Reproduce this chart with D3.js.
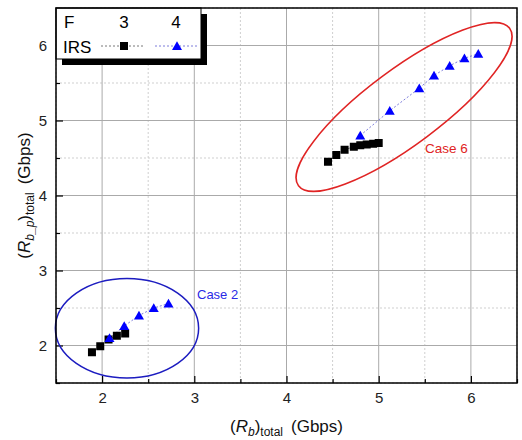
<!DOCTYPE html>
<html>
<head>
<meta charset="utf-8">
<script src="https://cdn.jsdelivr.net/npm/d3@7"></script>
<style>
  body { margin: 0; background: #fff; }
  svg { font-family: "Liberation Sans", Arial, sans-serif; }
</style>
</head>
<body>
<svg id="chart" width="522" height="440"></svg>
<script>
// data
const majorTicks = [2, 3, 4, 5, 6];
const minorTicks = [1.5, 2.5, 3.5, 4.5, 5.5, 6.5];

// F = 3 (squares)
const sqCase2X = [1.89, 1.98, 2.07, 2.16, 2.25];
const sqCase2Y = [1.91, 1.99, 2.08, 2.13, 2.16];
const sqCase6X = [4.45, 4.54, 4.63, 4.73, 4.80, 4.87, 4.94, 5.00];
const sqCase6Y = [4.45, 4.54, 4.61, 4.65, 4.67, 4.68, 4.69, 4.70];

// F = 4 (triangles)
const trCase2X = [2.08, 2.24, 2.40, 2.56, 2.72];
const trCase2Y = [2.10, 2.26, 2.40, 2.50, 2.56];
const trCase6X = [4.80, 5.12, 5.44, 5.60, 5.77, 5.93, 6.08];
const trCase6Y = [4.80, 5.13, 5.43, 5.60, 5.73, 5.83, 5.89];

// annotation ellipses: centre (data), half widths (data units)
const case2Ellipse = {cx: 2.27, cy: 2.23, rx: 0.777, ry: 0.663};
// case 6: ends of the long axis (data) and half width of short axis (data, along y scale)
const case6Ellipse = {x1: 4.13, y1: 4.13, x2: 6.42, y2: 6.23, half: 0.50};

const zip = (xs, ys) => xs.map((v, i) => [v, ys[i]]);

const svg = d3.select("#chart");
const margin = {left: 56, top: 8, right: 5, bottom: 57};
const W = 522 - margin.left - margin.right;
const H = 440 - margin.top - margin.bottom;

const x = d3.scaleLinear().domain([1.5, 6.5]).range([0, W]);
const y = d3.scaleLinear().domain([1.5, 6.5]).range([H, 0]);

const g = svg.append("g").attr("transform", `translate(${margin.left},${margin.top})`);

// grid
const gridG = g.append("g");
gridG.selectAll("line.minx").data(minorTicks).enter().append("line")
    .attr("x1", d => x(d)).attr("x2", d => x(d)).attr("y1", 0).attr("y2", H)
    .attr("stroke", "#cfcfcf").attr("stroke-dasharray", "2,2");
gridG.selectAll("line.miny").data(minorTicks).enter().append("line")
    .attr("y1", d => y(d)).attr("y2", d => y(d)).attr("x1", 0).attr("x2", W)
    .attr("stroke", "#cfcfcf").attr("stroke-dasharray", "2,2");
gridG.selectAll("line.majx").data(majorTicks).enter().append("line")
    .attr("x1", d => x(d)).attr("x2", d => x(d)).attr("y1", 0).attr("y2", H)
    .attr("stroke", "#aaaaaa");
gridG.selectAll("line.majy").data(majorTicks).enter().append("line")
    .attr("y1", d => y(d)).attr("y2", d => y(d)).attr("x1", 0).attr("x2", W)
    .attr("stroke", "#aaaaaa");

// axes
const xAxis = d3.axisBottom(x).tickValues(majorTicks).tickFormat(d3.format("d"))
    .tickSizeInner(-7).tickSizeOuter(0).tickPadding(9);
const yAxis = d3.axisLeft(y).tickValues(majorTicks).tickFormat(d3.format("d"))
    .tickSizeInner(-7).tickSizeOuter(0).tickPadding(9);
const xMinor = d3.axisBottom(x).tickValues(minorTicks).tickFormat("").tickSizeInner(-4).tickSizeOuter(0);
const yMinor = d3.axisLeft(y).tickValues(minorTicks).tickFormat("").tickSizeInner(-4).tickSizeOuter(0);

[[xAxis, true], [xMinor, true], [yAxis, false], [yMinor, false]].forEach(([ax, bottom]) => {
    const a = g.append("g").attr("transform", bottom ? `translate(0,${H})` : null).call(ax);
    a.select(".domain").remove();
    a.selectAll("line").attr("stroke", "#000").attr("stroke-width", 1.2);
    a.selectAll("text").attr("font-size", 15).attr("fill", "#222")
        .attr("font-family", "'Liberation Sans', Arial, sans-serif");
});

// ellipses
g.append("ellipse")
    .attr("cx", x(case2Ellipse.cx)).attr("cy", y(case2Ellipse.cy))
    .attr("rx", x(case2Ellipse.cx + case2Ellipse.rx) - x(case2Ellipse.cx))
    .attr("ry", y(case2Ellipse.cy - case2Ellipse.ry) - y(case2Ellipse.cy))
    .attr("fill", "none").attr("stroke", "#1c1cc0").attr("stroke-width", 1.5);

let ex1 = x(case6Ellipse.x1), ey1 = y(case6Ellipse.y1);
let ex2 = x(case6Ellipse.x2), ey2 = y(case6Ellipse.y2);
let ecx = (ex1 + ex2) / 2, ecy = (ey1 + ey2) / 2;
let eA = Math.hypot(ex2 - ex1, ey2 - ey1) / 2;
let eAng = Math.atan2(ey2 - ey1, ex2 - ex1) * 180 / Math.PI;
g.append("ellipse")
    .attr("cx", 0).attr("cy", 0).attr("rx", eA)
    .attr("ry", y(0) - y(case6Ellipse.half))
    .attr("transform", `translate(${ecx},${ecy}) rotate(${eAng})`)
    .attr("fill", "none").attr("stroke", "#e02424").attr("stroke-width", 1.5);

// case labels
g.append("text").attr("x", 141).attr("y", y(2.68)).attr("dy", "0.35em")
    .attr("font-size", 13).attr("fill", "#2a2ae6").text("Case 2");
g.append("text").attr("x", 369).attr("y", y(4.63)).attr("dy", "0.35em")
    .attr("font-size", 13.5).attr("fill", "#e02424").text("Case 6");

// connecting lines
const line = d3.line().x(d => x(d[0])).y(d => y(d[1]));
[zip(sqCase2X, sqCase2Y), zip(sqCase6X, sqCase6Y)].forEach(pts => {
    g.append("path").attr("d", line(pts)).attr("fill", "none")
        .attr("stroke", "#555").attr("stroke-width", 0.8).attr("stroke-dasharray", "2,2");
});
[zip(trCase2X, trCase2Y), zip(trCase6X, trCase6Y)].forEach(pts => {
    g.append("path").attr("d", line(pts)).attr("fill", "none")
        .attr("stroke", "#5a5ad0").attr("stroke-width", 0.8).attr("stroke-dasharray", "2,2");
});

// markers
const squares = zip(sqCase2X, sqCase2Y).concat(zip(sqCase6X, sqCase6Y));
const triangles = zip(trCase2X, trCase2Y).concat(zip(trCase6X, trCase6Y));
const triPath = "M0,-4.8 L5,4 L-5,4 Z";

g.selectAll("rect.sq").data(squares).enter().append("rect")
    .attr("x", d => x(d[0]) - 4).attr("y", d => y(d[1]) - 4)
    .attr("width", 8).attr("height", 8).attr("fill", "#000");
g.selectAll("path.tri").data(triangles).enter().append("path")
    .attr("d", triPath)
    .attr("transform", d => `translate(${x(d[0])},${y(d[1])})`)
    .attr("fill", "#0000ff");

// legend
const leg = g.append("g");
leg.append("rect").attr("x", 6).attr("y", 6).attr("width", 145).attr("height", 51).attr("fill", "#000");
leg.append("rect").attr("x", 0).attr("y", 0).attr("width", 145).attr("height", 51)
    .attr("fill", "#fff").attr("stroke", "#000").attr("stroke-width", 1);
leg.append("text").attr("x", 8).attr("y", 14).attr("dy", "0.35em").attr("font-size", 17).text("F");
leg.append("text").attr("x", 68).attr("y", 14).attr("dy", "0.35em").attr("font-size", 17)
    .attr("text-anchor", "middle").text("3");
leg.append("text").attr("x", 120).attr("y", 14).attr("dy", "0.35em").attr("font-size", 17)
    .attr("text-anchor", "middle").text("4");
leg.append("text").attr("x", 7).attr("y", 39).attr("dy", "0.35em").attr("font-size", 17).text("IRS");
leg.append("line").attr("x1", 45).attr("x2", 89).attr("y1", 38).attr("y2", 38)
    .attr("stroke", "#555").attr("stroke-width", 0.8).attr("stroke-dasharray", "2,2");
leg.append("rect").attr("x", 64).attr("y", 34).attr("width", 8).attr("height", 8).attr("fill", "#000");
leg.append("line").attr("x1", 99).attr("x2", 143).attr("y1", 38).attr("y2", 38)
    .attr("stroke", "#5a5ad0").attr("stroke-width", 0.8).attr("stroke-dasharray", "2,2");
leg.append("path").attr("d", triPath).attr("transform", "translate(121,38)").attr("fill", "#0000ff");

// frame
g.append("rect").attr("width", W).attr("height", H)
    .attr("fill", "none").attr("stroke", "#000").attr("stroke-width", 1.5);

// axis titles
const xt = svg.append("text").attr("x", margin.left + x(4)).attr("y", 432)
    .attr("text-anchor", "middle").attr("font-size", 17).attr("fill", "#111");
xt.append("tspan").text("(");
xt.append("tspan").attr("font-style", "italic").text("R");
xt.append("tspan").attr("font-style", "italic").attr("font-size", 12).attr("dy", 4).text("b");
xt.append("tspan").attr("dy", -4).text(")");
xt.append("tspan").attr("font-size", 12).attr("dy", 4).text("total");
xt.append("tspan").attr("dy", -4).attr("dx", 8).text("(Gbps)");

const yt = svg.append("text")
    .attr("transform", `translate(30,${margin.top + y(4)}) rotate(-90)`)
    .attr("text-anchor", "middle").attr("font-size", 17).attr("fill", "#111");
yt.append("tspan").text("(");
yt.append("tspan").attr("font-style", "italic").text("R");
yt.append("tspan").attr("font-style", "italic").attr("font-size", 12).attr("dy", 4).text("b_p");
yt.append("tspan").attr("dy", -4).text(")");
yt.append("tspan").attr("font-size", 12).attr("dy", 4).text("total");
yt.append("tspan").attr("dy", -4).attr("dx", 8).text("(Gbps)");
</script>
</body>
</html>
